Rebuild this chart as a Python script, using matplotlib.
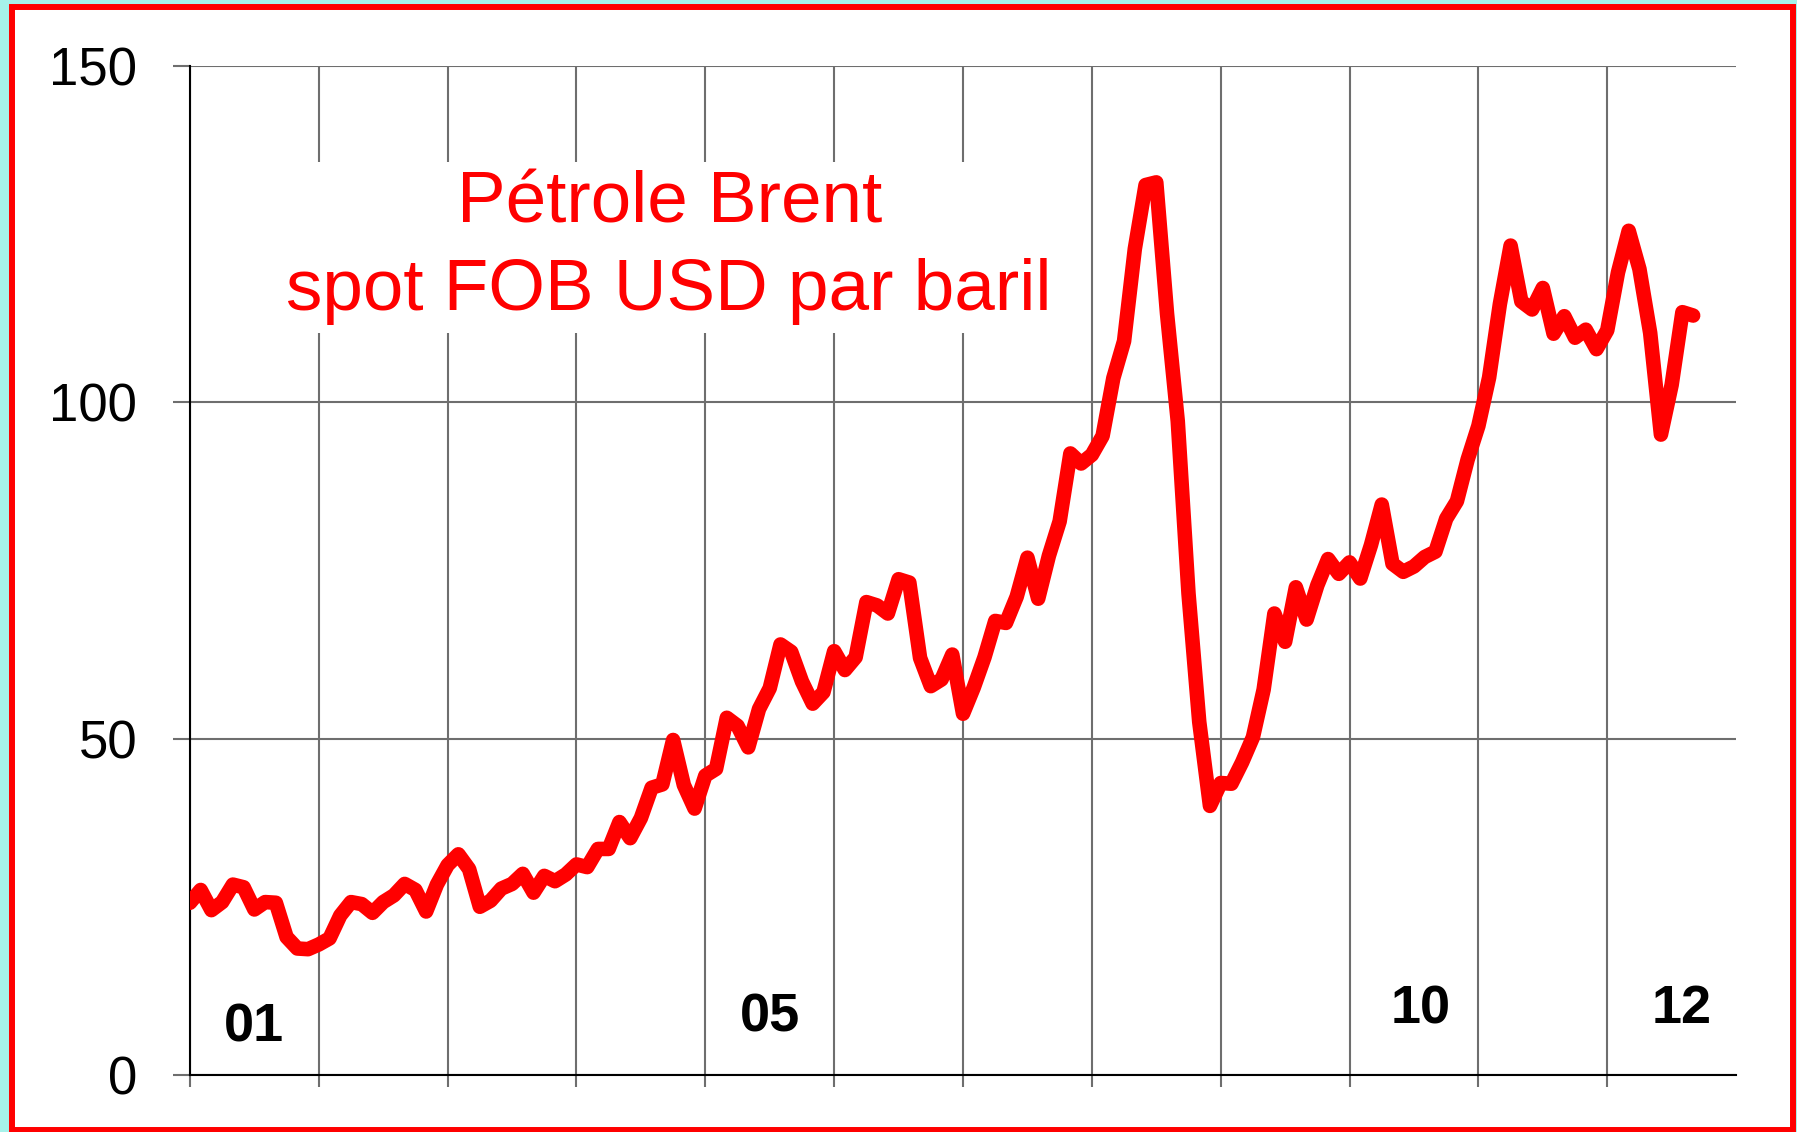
import numpy as np
import matplotlib.pyplot as plt
from matplotlib.patches import Rectangle

plt.rcParams['font.family'] = ['Liberation Sans', 'DejaVu Sans']

# Brent spot FOB, USD/baril, moyennes mensuelles janv. 2001 - sept. 2012
brent_2001 = [25.6, 27.5, 24.5, 25.7, 28.3, 27.9, 24.6, 25.7, 25.6, 20.5, 18.8, 18.7]
brent_2002 = [19.4, 20.3, 23.7, 25.7, 25.4, 24.1, 25.7, 26.7, 28.4, 27.5, 24.3, 28.3]
brent_2003 = [31.2, 32.8, 30.6, 25.0, 25.9, 27.7, 28.4, 29.9, 27.1, 29.6, 28.8, 29.8]
brent_2004 = [31.3, 30.9, 33.6, 33.6, 37.6, 35.2, 38.2, 42.7, 43.2, 49.8, 43.1, 39.6]
brent_2005 = [44.5, 45.5, 53.1, 51.9, 48.7, 54.4, 57.5, 64.0, 62.9, 58.5, 55.2, 56.9]
brent_2006 = [63.0, 60.2, 62.1, 70.3, 69.8, 68.6, 73.7, 73.2, 62.0, 57.8, 58.8, 62.5]
brent_2007 = [53.7, 57.6, 62.1, 67.5, 67.2, 71.1, 76.9, 70.8, 77.2, 82.3, 92.4, 90.9]
brent_2008 = [92.2, 95.0, 103.6, 109.1, 122.8, 132.3, 132.7, 113.2, 97.2, 71.6, 52.5, 40.0]
brent_2009 = [43.4, 43.3, 46.5, 50.2, 57.3, 68.6, 64.4, 72.5, 67.7, 72.8, 76.7, 74.5]
brent_2010 = [76.2, 73.8, 78.8, 84.8, 76.0, 74.8, 75.6, 77.0, 77.8, 82.7, 85.3, 91.5]
brent_2011 = [96.5, 103.7, 114.6, 123.3, 115.0, 113.8, 117.0, 110.2, 112.8, 109.6, 110.8, 107.9]
brent_2012 = [110.7, 119.3, 125.5, 119.8, 110.3, 95.2, 102.6, 113.4, 112.9]

brent = (brent_2001 + brent_2002 + brent_2003 + brent_2004 + brent_2005 + brent_2006
         + brent_2007 + brent_2008 + brent_2009 + brent_2010 + brent_2011 + brent_2012)
dates = 2001 + np.arange(len(brent)) / 12

years = list(range(2001, 2013))
year_labels = ['01', '05', '10', '12']
year_label_pos = [2001.5, 2005.5, 2010.55, 2012.58]
year_label_y = [7.0, 8.6, 9.8, 9.8]

fig = plt.figure(figsize=(17.97, 11.32), dpi=100, facecolor='#a6f2ea')
# cadre rouge
fig.patches.append(Rectangle((0.0067, 0.0018), 0.9911, 0.992, transform=fig.transFigure,
                             facecolor='white', edgecolor='#ff0000', linewidth=4.3, zorder=-10))

ax = fig.add_axes([0.1057, 0.0504, 0.8604, 0.8913])
ax.set_facecolor('none')

ax.plot(dates, brent, color='#ff0000', linewidth=10.5, solid_joinstyle='round',
        solid_capstyle='round', zorder=4)

ax.set_xlim(2001, 2013)
ax.set_ylim(0, 150)
ax.set_xticks(years)
ax.set_xticklabels([])
ax.set_yticks([0, 50, 100, 150])
ax.grid(True, color='#6e6e6e', linewidth=1.5, zorder=1)
ax.set_axisbelow(True)

ax.tick_params(axis='y', direction='out', length=12, width=1.5, color='#6e6e6e',
               labelsize=38, pad=26)
ax.tick_params(axis='x', direction='out', length=8.5, width=1.5, color='#6e6e6e')

for s in ['top', 'right']:
    ax.spines[s].set_visible(False)
for s in ['left', 'bottom']:
    ax.spines[s].set_color('black')
    ax.spines[s].set_linewidth(1.5)

ax.text(2004.72, 123.0, 'Pétrole Brent\nspot FOB USD par baril', color='#ff0000',
        fontsize=52.5, ha='center', va='center', multialignment='center', linespacing=1.4,
        bbox=dict(facecolor='white', edgecolor='none', pad=6), zorder=3)

for lab, xp, yp in zip(year_labels, year_label_pos, year_label_y):
    ax.text(xp, yp, lab, fontsize=39, fontweight='bold', ha='center', va='center', zorder=5)

fig.savefig('out.png', dpi=100, facecolor=fig.get_facecolor())
